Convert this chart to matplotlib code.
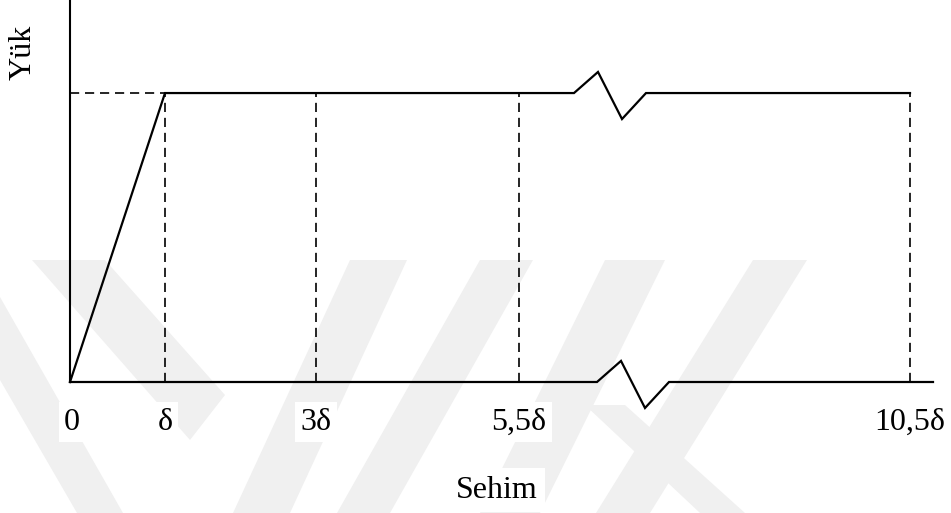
import matplotlib.pyplot as plt
from matplotlib.patches import Polygon

plt.rcParams['font.family'] = ['Liberation Serif', 'DejaVu Serif']

# deflection marks on the schematic axis (drawing units) and their labels
tick_pos = [0, 95, 246, 449, 840]
tick_labels = ['0', 'δ', '3δ', '5,5δ', '10,5δ']

# load path: linear rise up to δ, then constant load (normalised to 1)
rise_x = [0, 95]
rise_y = [0, 1]
plateau_load = 1.0

# axis break positions (start of the zigzag) on the plateau and on the baseline
plateau_break = 504
base_break = 527
# zigzag shape: offsets along x and y
zig_dx = [0, 24, 48, 72]
zig_dy = [0, 0.073, -0.09, 0]

x_end = 863
y_top = 1.322

W, H = 951, 513
fig = plt.figure(figsize=(W / 100, H / 100), dpi=100)


def px(x, y):
    return (x / W, 1 - y / H)


# faint background logo stripes
stripes = [
    [(32, 260), (105, 260), (225, 395), (190, 440)],
    [(0, 297), (123, 513), (77, 513), (0, 380)],
    [(350, 260), (407, 260), (290, 513), (233, 513)],
    [(480, 260), (533, 260), (390, 513), (337, 513)],
    [(605, 260), (665, 260), (540, 513), (480, 513)],
    [(753, 260), (807, 260), (650, 513), (596, 513)],
    [(585, 405), (625, 405), (745, 513), (700, 513)],
]
for s in stripes:
    fig.patches.append(Polygon([px(*p) for p in s], closed=True,
                               transform=fig.transFigure, facecolor='#f0f0f0',
                               edgecolor='none', zorder=-5))

ax = fig.add_axes([70 / W, (H - 382) / H, x_end / W, 382 / H])
ax.set_zorder(2)
ax.set_facecolor('none')
ax.set_xlim(0, x_end)
ax.set_ylim(0, y_top)
for side in ['top', 'right', 'bottom']:
    ax.spines[side].set_visible(False)
ax.spines['left'].set_linewidth(1.5)
ax.set_xticks([])
ax.set_yticks([])

line_kw = dict(color='black', lw=1.6, clip_on=False, solid_joinstyle='miter')
dash_kw = dict(color='black', lw=1.2, linestyle=(0, (5.5, 3.5)), clip_on=False)

# baseline with break
bx = [0] + [base_break + d for d in zig_dx] + [x_end]
by = [0] + zig_dy + [0]
ax.plot(bx, by, **line_kw)

# load curve: rise, plateau with break, plateau to the end mark
px_ = rise_x + [plateau_break + d for d in zig_dx] + [tick_pos[-1]]
py_ = rise_y + [plateau_load + d for d in zig_dy] + [plateau_load]
ax.plot(px_, py_, **line_kw)

# dashed guides
ax.plot([0, rise_x[1]], [plateau_load, plateau_load], **dash_kw)
for x in tick_pos[1:]:
    ax.plot([x, x], [0, plateau_load], **dash_kw)

# deflection labels
for x, lab in zip(tick_pos, tick_labels):
    ax.text(x + (2 if x == 0 else 0), -0.105, lab, transform=ax.get_xaxis_transform(),
            ha='center', va='center', fontsize=23,
            bbox=dict(facecolor='white', edgecolor='none', pad=4))

fig.text(*px(497, 490), 'Sehim', ha='center', va='center', fontsize=23,
         bbox=dict(facecolor='white', edgecolor='none', pad=5), zorder=3)
fig.text(*px(23, 52), 'Yük', ha='center', va='center', fontsize=23, rotation=90,
         zorder=3)

fig.savefig('out.png', dpi=100)
